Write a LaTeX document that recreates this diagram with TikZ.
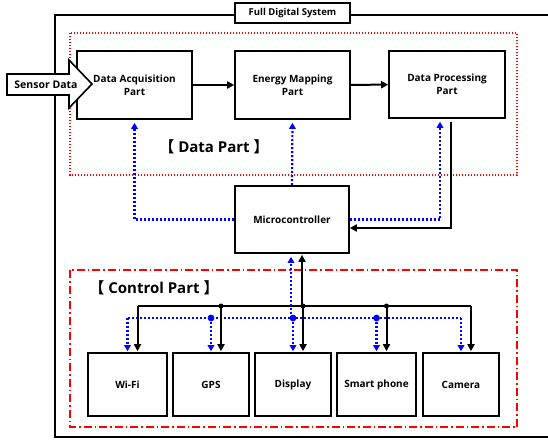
\documentclass[tikz,border=0pt]{standalone}
\usepackage{fontspec}
\setmainfont{Open Sans}
\newfontfamily\cjk{Noto Sans CJK KR}
\usetikzlibrary{arrows.meta}

\tikzset{
  blk/.style={draw,line width=1.6pt,fill=white,align=center,inner sep=1pt,
    font=\bfseries\fontsize{10}{13}\selectfont},
  dflow/.style={line width=2pt,-{Triangle[length=7pt,width=7pt]}},
  cflow/.style={blue,line width=2.2pt,dash pattern=on 2pt off 2pt,
    -{Triangle[length=6pt,width=6.5pt]}},
  partlabel/.style={font=\bfseries\fontsize{15}{18}\selectfont},
}

\begin{document}
\begin{tikzpicture}[x=1pt,y=-1pt]
  \useasboundingbox (0,0) rectangle (548,439);

  % outer frame
  \draw[line width=1.6pt] (548,15) -- (55,15) -- (55,437) -- (548,437);
  \node[blk,minimum width=115pt,minimum height=20pt,font=\bfseries\fontsize{9.5}{11}\selectfont] (title) at (292.5,13) {Full Digital System};

  % part frames
  \draw[red,line width=1.3pt,dash pattern=on 1.3pt off 1.7pt] (70,33) rectangle (517,175);
  \draw[red,line width=1.6pt,dash pattern=on 8pt off 3pt on 1.5pt off 3pt] (70,270) rectangle (517,427);
  \node[partlabel] (dlabel) at (214,147) {{\cjk【} Data Part {\cjk】}};
  \node[partlabel] (clabel) at (154,288) {{\cjk【} Control Part {\cjk】}};

  % data part
  \node[blk,minimum width=115pt,minimum height=68pt] (acq) at (134.5,85) {Data Acquisition\\Part};
  \node[blk,minimum width=115pt,minimum height=68pt] (emap) at (292.5,85) {Energy Mapping\\Part};
  \node[blk,minimum width=116pt,minimum height=67pt] (dproc) at (447,84.5) {Data Processing\\Part};
  \node[blk,minimum width=114pt,minimum height=67pt] (mcu) at (292,219.5) {Microcontroller};

  % sensor input
  \draw[line width=1.6pt,fill=white] (7,74) -- (69,74) -- (69,60) -- (92,84)
    -- (69,108) -- (69,95) -- (7,95) -- cycle;
  \node[font=\bfseries\fontsize{10.5}{12}\selectfont] (sensor) at (46,84.5) {Sensor Data};

  \draw[dflow] (acq) -- (emap);
  \draw[dflow] (emap) -- (dproc);
  \draw[dflow,shorten <=3pt] ([xshift=4pt]dproc.south) |- ([yshift=-8.5pt]mcu.east);

  %control lines to data part
  \draw[cflow,shorten >=3pt] (mcu.west) -| (acq.south);
  \draw[cflow,shorten >=3pt] (mcu.north) -- (emap.south);
  \draw[cflow,shorten >=3pt] (mcu.east) -| ([xshift=-7pt]dproc.south);

  % control part
  \node[blk,minimum width=79pt,minimum height=63pt] (wifi) at (127.5,384.5) {Wi-Fi};
  \node[blk,minimum width=76pt,minimum height=63pt] (gps) at (211,384.5) {GPS};
  \node[blk,minimum width=76pt,minimum height=63pt] (disp) at (293,384.5) {Display};
  \node[blk,minimum width=79pt,minimum height=63pt] (phone) at (376.5,384.5) {Smart phone};
  \node[blk,minimum width=76pt,minimum height=63pt] (cam) at (461,384.5) {Camera};

  \coordinate (ktop) at (302,306);
  \coordinate (btop) at (291,318);

  % buses
  \draw[line width=2pt] ([xshift=10pt]wifi.north |- ktop) -- ([xshift=10pt]cam.north |- ktop);
  \draw[blue,line width=2.2pt,dash pattern=on 2pt off 2pt] (wifi.north |- btop) -- (cam.north |- btop);
  \draw[dflow,shorten >=1pt] (ktop) -- (ktop |- mcu.south);
  \draw[cflow,shorten >=3pt] (btop) -- (btop |- mcu.south);
  \foreach \b in {wifi,gps,disp,phone,cam} {
    \draw[dflow,shorten >=1pt] ([xshift=10pt]\b.north |- ktop) -- ([xshift=10pt]\b.north);
    \draw[cflow,shorten >=1pt] (\b.north |- btop) -- (\b.north);
  }
  \foreach \b in {gps,disp,phone} {
    \fill ([xshift=10pt]\b.north |- ktop) circle (2.5pt);
    \fill[blue] (\b.north |- btop) circle (3.4pt);
  }
\end{tikzpicture}
\end{document}
